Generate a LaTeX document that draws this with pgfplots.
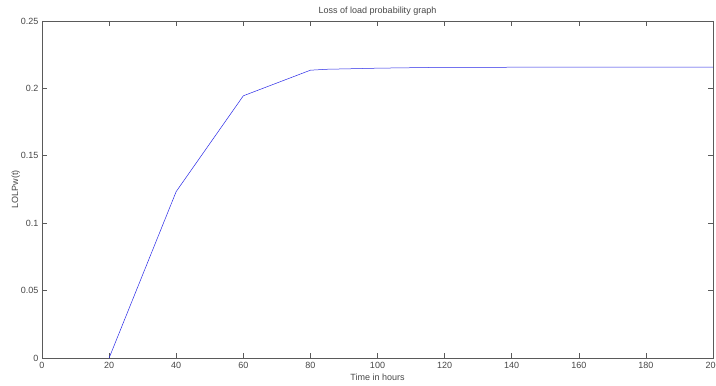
\documentclass[border=0pt]{standalone}
\usepackage{fontspec}
\setmainfont{Liberation Sans}
\usepackage{pgfplots}
\pgfplotsset{compat=1.18}
\definecolor{axgray}{RGB}{90,90,90}
\definecolor{txtgray}{RGB}{70,70,70}
\definecolor{lineblue}{RGB}{40,40,230}
\begin{document}
\begin{tikzpicture}
\begin{axis}[
  scale only axis,
  width=671pt, height=337pt,
  xmin=0, xmax=200, ymin=0, ymax=0.25,
  xtick={0,20,...,200},
  ytick={0,0.05,0.1,0.15,0.2,0.25},
  tick align=inside,
  major tick length=5pt,
  axis line style={axgray, line width=0.8pt},
  every tick/.style={axgray, line width=0.6pt},
  tick label style={font=\fontsize{9}{10}\selectfont, text=txtgray},
  label style={font=\fontsize{9}{10}\selectfont, text=txtgray},
  title style={font=\fontsize{9}{10}\selectfont, text=txtgray, yshift=-4pt},
  /pgf/number format/assume math mode=true,
  yticklabel style={/pgf/number format/fixed, /pgf/number format/precision=2},
  xticklabel style={/pgf/number format/fixed, yshift=-1pt},
  scaled y ticks=false,
  title={Loss of load probability graph},
  xlabel={Time in hours},
  ylabel={LOLPw(t)},
  xlabel style={yshift=2pt},
  ylabel style={yshift=-6pt},
]
\addplot[color=lineblue, line width=0.5pt, mark=none] coordinates {
  (20,0) (40,0.1235) (60,0.1945) (80,0.2135) (85,0.2142) (100,0.2150) (115,0.2155) (140,0.2157) (200,0.2158)
};
\end{axis}
\pgfresetboundingbox
\path ([xshift=-42pt,yshift=-27pt]current axis.south west) rectangle ([xshift=3pt,yshift=21pt]current axis.north east);
\end{tikzpicture}
\end{document}
